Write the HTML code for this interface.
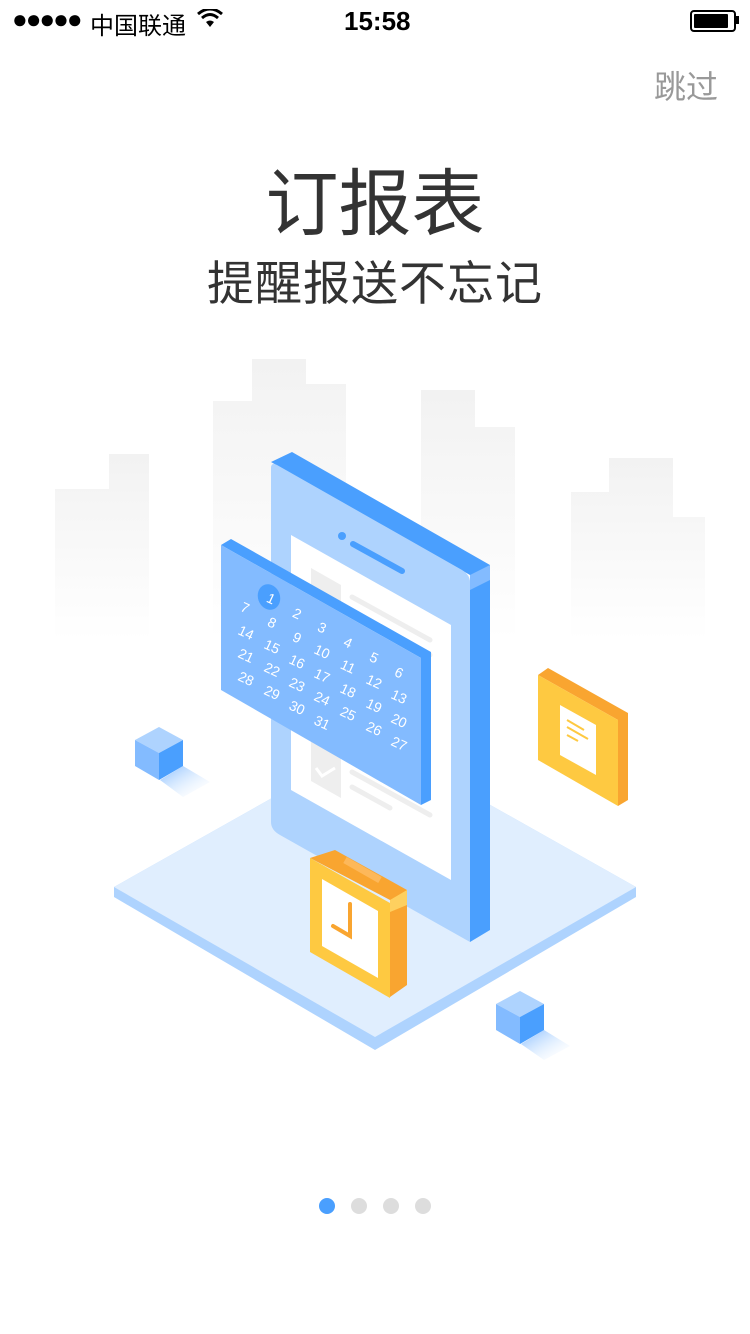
<!DOCTYPE html>
<html><head><meta charset="utf-8"><style>
html,body{margin:0;padding:0;background:#fff;}
body{width:750px;height:1334px;position:relative;overflow:hidden;font-family:"Liberation Sans","Noto Sans CJK SC",sans-serif;}
.t{position:absolute;white-space:nowrap;}
</style></head><body>
<div class="t" style="left:12px;top:4px;font-size:26px;color:#000;letter-spacing:-2px;">●●●●●</div>
<div class="t" style="left:90px;top:6px;font-size:24px;color:#000;">中国联通</div>
<svg style="position:absolute;left:197px;top:9px" width="26" height="20" viewBox="0 0 26 20"><path d="M13 18 L9 13 Q13 10 17 13Z" fill="#000"/><path d="M5 9 Q13 2 21 9" stroke="#000" stroke-width="3" fill="none"/><path d="M1 5 Q13 -5 25 5" stroke="#000" stroke-width="3" fill="none"/></svg>
<div class="t" style="left:344px;top:6px;font-size:26px;font-weight:bold;color:#000;">15:58</div>
<div style="position:absolute;left:690px;top:10px;width:42px;height:18px;border:2px solid #000;border-radius:4px;"><div style="margin:2px;width:34px;height:14px;background:#000;border-radius:1px"></div></div>
<div style="position:absolute;left:736px;top:16px;width:3px;height:8px;background:#000"></div>
<div class="t" style="left:654px;top:62px;font-size:32px;color:#999;">跳过</div>
<div class="t" style="left:0;width:750px;text-align:center;top:145px;font-size:73px;color:#333;">订报表</div>
<div class="t" style="left:0;width:750px;text-align:center;top:245px;font-size:47px;color:#333;letter-spacing:1px;">提醒报送不忘记</div>

<svg style="position:absolute;left:0;top:0" width="750" height="1334">
<defs>
<linearGradient id="g" x1="0" y1="0" x2="0" y2="1"><stop offset="0" stop-color="#f2f2f2"/><stop offset="1" stop-color="#fff"/></linearGradient>
<linearGradient id="sh" x1="0" y1="0" x2="1" y2="1"><stop offset="0" stop-color="#83bbff"/><stop offset="1" stop-color="#fff" stop-opacity="0"/></linearGradient>
</defs>
<g fill="url(#g)">
<path d="M55 489H109V454H149V640H55Z"/>
<path d="M213 401H252V359H306V384H346V640H213Z"/>
<path d="M421 390H475V427H515V640H421Z"/>
<path d="M571 492H609V458H673V517H705V640H571Z"/>
</g>
<path d="M114 887 L375 740 L636 887 L636 897 L375 1050 L114 897Z" fill="#aed3fe"/>
<path d="M114 887 L375 740 L636 887 L375 1037Z" fill="#e0eefe"/>
<path d="M271 462 L292 452 L490 565 L490 930 L470 942 L470 575Z" fill="#4a9ffe"/>
<path d="M470 575 L490 565 L490 580 L470 590Z" fill="#83bbff"/>
<path d="M271 468 Q271 462 277 465 L462 570 Q470 575 470 582 L470 942 L280 835 Q271 830 271 822Z" fill="#aed3fe"/>
<path d="M291 535 L451 625 L451 880 L291 790Z" fill="#fff"/>
<circle cx="342" cy="536" r="4" fill="#4a9ffe"/>
<path d="M353 544 L402 571" stroke="#4a9ffe" stroke-width="6" stroke-linecap="round"/>
<path d="M311 568 L341 585 L341 798 L311 781Z" fill="#eee"/>
<g stroke="#eee" stroke-width="5" stroke-linecap="round"><path d="M352 597 L430 640"/><path d="M352 612 L430 655"/><path d="M352 772 L430 815"/><path d="M352 787 L390 808"/></g>
<path d="M316 768 L322 776 L335 768" stroke="#fff" stroke-width="3" fill="none"/>
<path d="M221 545 L231 539 L431 652 L431 800 L421 805 L421 658Z" fill="#4a9ffe"/>
<path d="M221 545 L421 658 L421 805 L221 690Z" fill="#83bbff"/>
<ellipse cx="269" cy="597" rx="11" ry="13" fill="#4a9ffe" transform="rotate(-20 269 597)"/>
<g fill="#fff" font-size="14" font-family="Liberation Sans,sans-serif" text-anchor="middle">
<text transform="translate(269,603) rotate(25)">1</text>
<text transform="translate(295,618) rotate(25)">2</text>
<text transform="translate(320,632) rotate(25)">3</text>
<text transform="translate(346,647) rotate(25)">4</text>
<text transform="translate(372,662) rotate(25)">5</text>
<text transform="translate(397,677) rotate(25)">6</text>
<text transform="translate(243,612) rotate(25)">7</text>
<text transform="translate(270,627) rotate(25)">8</text>
<text transform="translate(295,642) rotate(25)">9</text>
<text transform="translate(320,656) rotate(25)">10</text>
<text transform="translate(346,671) rotate(25)">11</text>
<text transform="translate(372,686) rotate(25)">12</text>
<text transform="translate(397,701) rotate(25)">13</text>
<text transform="translate(244,637) rotate(25)">14</text>
<text transform="translate(270,651) rotate(25)">15</text>
<text transform="translate(295,666) rotate(25)">16</text>
<text transform="translate(320,680) rotate(25)">17</text>
<text transform="translate(346,695) rotate(25)">18</text>
<text transform="translate(372,710) rotate(25)">19</text>
<text transform="translate(397,725) rotate(25)">20</text>
<text transform="translate(244,660) rotate(25)">21</text>
<text transform="translate(270,674) rotate(25)">22</text>
<text transform="translate(295,689) rotate(25)">23</text>
<text transform="translate(320,703) rotate(25)">24</text>
<text transform="translate(346,718) rotate(25)">25</text>
<text transform="translate(372,733) rotate(25)">26</text>
<text transform="translate(397,748) rotate(25)">27</text>
<text transform="translate(244,683) rotate(25)">28</text>
<text transform="translate(270,697) rotate(25)">29</text>
<text transform="translate(295,712) rotate(25)">30</text>
<text transform="translate(320,727) rotate(25)">31</text>
</g>
<path d="M538 675 L548 668 L628 713 L628 800 L618 806 L618 720Z" fill="#f9a530"/>
<path d="M538 675 L618 720 L618 806 L538 760Z" fill="#fec941"/>
<path d="M560 705 L596 725 L596 775 L560 755Z" fill="#fff"/>
<g stroke="#fec941" stroke-width="2"><path d="M567 720 L584 730"/><path d="M567 727 L588 739"/><path d="M567 735 L578 741"/></g>
<path d="M310 858 L335 850 L407 890 L407 985 L390 997 L390 900Z" fill="#f9a530"/>
<path d="M345 860 L380 880" stroke="#fdb85a" stroke-width="7"/>
<path d="M390 900 L407 890 L407 905 L390 912Z" fill="#fed05f"/>
<path d="M310 858 L390 903 L390 998 L310 952Z" fill="#fec941"/>
<path d="M322 879 L378 911 L378 978 L322 946Z" fill="#fff"/>
<path d="M350 904 L350 936 L333 926" stroke="#f9a530" stroke-width="4" fill="none" stroke-linecap="round"/>
<path d="M183 766 L210 782 L183 797 L160 780Z" fill="url(#sh)"/>
<path d="M135 740 L159 727 L183 740 L159 753Z" fill="#aed3fe"/>
<path d="M135 740 L159 753 L159 780 L135 766Z" fill="#83bbff"/>
<path d="M183 740 L159 753 L159 780 L183 766Z" fill="#4a9ffe"/>
<path d="M544 1030 L570 1046 L544 1060 L521 1044Z" fill="url(#sh)"/>
<path d="M496 1004 L520 991 L544 1004 L520 1017Z" fill="#aed3fe"/>
<path d="M496 1004 L520 1017 L520 1044 L496 1030Z" fill="#83bbff"/>
<path d="M544 1004 L520 1017 L520 1044 L544 1030Z" fill="#4a9ffe"/>
<circle cx="327" cy="1206" r="8" fill="#4a9ffe"/>
<circle cx="359" cy="1206" r="8" fill="#ddd"/>
<circle cx="391" cy="1206" r="8" fill="#ddd"/>
<circle cx="423" cy="1206" r="8" fill="#ddd"/>
</svg>
</body></html>
